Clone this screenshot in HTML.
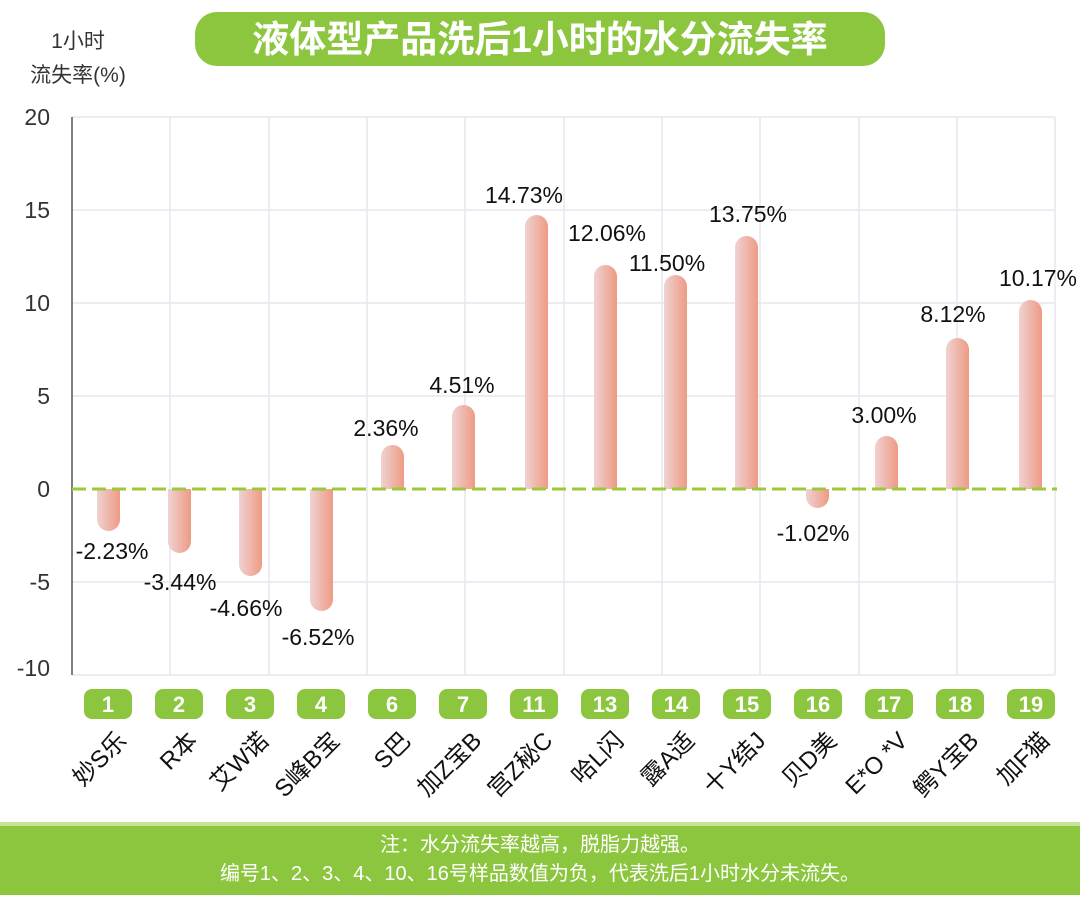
<!DOCTYPE html>
<html><head><meta charset="utf-8"><style>
body{margin:0;background:#fff;}
svg text{font-family:"Liberation Sans","Noto Sans CJK SC",sans-serif;}
</style></head><body>
<svg width="1080" height="895" viewBox="0 0 1080 895" xmlns="http://www.w3.org/2000/svg">
<defs>
<linearGradient id="bg" x1="0" y1="0" x2="1" y2="0">
<stop offset="0" stop-color="#efd2d2"/><stop offset="1" stop-color="#ee9a84"/>
</linearGradient>
<clipPath id="up"><rect x="0" y="0" width="1080" height="489"/></clipPath>
<clipPath id="dn"><rect x="0" y="489" width="1080" height="400"/></clipPath>
</defs>
<rect width="1080" height="895" fill="#fff"/>
<!-- title -->
<rect x="195" y="12" width="690" height="54" rx="22" fill="#8cc63f"/>
<text x="540" y="52" font-size="37" font-weight="bold" fill="#fff" text-anchor="middle">液体型产品洗后1小时的水分流失率</text>
<text x="78" y="48" font-size="21" fill="#333" text-anchor="middle">1小时</text>
<text x="78" y="82" font-size="21" fill="#333" text-anchor="middle">流失率(%)</text>
<!-- grid -->
<g stroke="#e6e6ee" stroke-width="1.5">
<line x1="72" y1="117" x2="1055" y2="117"/><line x1="72" y1="210" x2="1055" y2="210"/>
<line x1="72" y1="303" x2="1055" y2="303"/><line x1="72" y1="396" x2="1055" y2="396"/>
<line x1="72" y1="582" x2="1055" y2="582"/><line x1="72" y1="675" x2="1055" y2="675"/>
<line x1="170" y1="117" x2="170" y2="675"/><line x1="269" y1="117" x2="269" y2="675"/>
<line x1="367" y1="117" x2="367" y2="675"/><line x1="465" y1="117" x2="465" y2="675"/>
<line x1="564" y1="117" x2="564" y2="675"/><line x1="662" y1="117" x2="662" y2="675"/>
<line x1="760" y1="117" x2="760" y2="675"/><line x1="859" y1="117" x2="859" y2="675"/>
<line x1="957" y1="117" x2="957" y2="675"/><line x1="1055" y1="117" x2="1055" y2="675"/>
</g>
<line x1="72" y1="117" x2="72" y2="675" stroke="#555" stroke-width="1.5"/>
<g font-size="23" fill="#333" text-anchor="end">
<text x="50" y="125">20</text><text x="50" y="218">15</text><text x="50" y="311">10</text>
<text x="50" y="404">5</text><text x="50" y="497">0</text><text x="50" y="590">-5</text><text x="50" y="676">-10</text>
</g>
<!-- bars -->
<g fill="url(#bg)" clip-path="url(#dn)">
<rect x="97" y="470" width="23" height="61" rx="11.5"/>
<rect x="168" y="470" width="23" height="83" rx="11.5"/>
<rect x="239" y="470" width="23" height="106" rx="11.5"/>
<rect x="310" y="470" width="23" height="141" rx="11.5"/>
<rect x="806" y="470" width="23" height="38" rx="11.5"/>
</g>
<g fill="url(#bg)" clip-path="url(#up)">
<rect x="381" y="445" width="23" height="70" rx="11.5"/>
<rect x="452" y="405" width="23" height="110" rx="11.5"/>
<rect x="525" y="215" width="23" height="300" rx="11.5"/>
<rect x="594" y="265" width="23" height="250" rx="11.5"/>
<rect x="664" y="275" width="23" height="240" rx="11.5"/>
<rect x="735" y="236" width="23" height="279" rx="11.5"/>
<rect x="875" y="436" width="23" height="79" rx="11.5"/>
<rect x="946" y="338" width="23" height="177" rx="11.5"/>
<rect x="1019" y="300" width="23" height="215" rx="11.5"/>
</g>
<line x1="72" y1="489" x2="1057" y2="489" stroke="#9cc93a" stroke-width="3" stroke-dasharray="14,6"/>
<!-- value labels -->
<g font-size="23" fill="#111" text-anchor="middle">
<text x="112" y="559">-2.23%</text><text x="180" y="590">-3.44%</text>
<text x="246" y="616">-4.66%</text><text x="318" y="645">-6.52%</text>
<text x="386" y="436">2.36%</text><text x="462" y="393">4.51%</text>
<text x="524" y="203">14.73%</text><text x="607" y="241">12.06%</text>
<text x="667" y="271">11.50%</text><text x="748" y="222">13.75%</text>
<text x="813" y="541">-1.02%</text><text x="884" y="423">3.00%</text>
<text x="953" y="322">8.12%</text><text x="1038" y="286">10.17%</text>
</g>
<!-- badges -->
<g fill="#8cc63f">
<rect x="84" y="689" width="48" height="30" rx="8"/><rect x="155" y="689" width="48" height="30" rx="8"/>
<rect x="226" y="689" width="48" height="30" rx="8"/><rect x="297" y="689" width="48" height="30" rx="8"/>
<rect x="368" y="689" width="48" height="30" rx="8"/><rect x="439" y="689" width="48" height="30" rx="8"/>
<rect x="510" y="689" width="48" height="30" rx="8"/><rect x="581" y="689" width="48" height="30" rx="8"/>
<rect x="652" y="689" width="48" height="30" rx="8"/><rect x="723" y="689" width="48" height="30" rx="8"/>
<rect x="794" y="689" width="48" height="30" rx="8"/><rect x="865" y="689" width="48" height="30" rx="8"/>
<rect x="936" y="689" width="48" height="30" rx="8"/><rect x="1007" y="689" width="48" height="30" rx="8"/>
</g>
<g font-size="22" font-weight="bold" fill="#fff" text-anchor="middle">
<text x="108" y="712">1</text><text x="179" y="712">2</text><text x="250" y="712">3</text><text x="321" y="712">4</text>
<text x="392" y="712">6</text><text x="463" y="712">7</text><text x="534" y="712">11</text><text x="605" y="712">13</text>
<text x="676" y="712">14</text><text x="747" y="712">15</text><text x="818" y="712">16</text><text x="889" y="712">17</text>
<text x="960" y="712">18</text><text x="1031" y="712">19</text>
</g>
<!-- x labels -->
<g font-size="24" fill="#111" text-anchor="end">
<text transform="translate(128,742) rotate(-45)">妙S乐</text>
<text transform="translate(199,742) rotate(-45)">R本</text>
<text transform="translate(270,742) rotate(-45)">艾W诺</text>
<text transform="translate(341,742) rotate(-45)">S峰B宝</text>
<text transform="translate(412,742) rotate(-45)">S巴</text>
<text transform="translate(483,742) rotate(-45)">加Z宝B</text>
<text transform="translate(554,742) rotate(-45)">宫Z秘C</text>
<text transform="translate(625,742) rotate(-45)">哈L闪</text>
<text transform="translate(696,742) rotate(-45)">露A适</text>
<text transform="translate(767,742) rotate(-45)">十Y结J</text>
<text transform="translate(838,742) rotate(-45)">贝D美</text>
<text transform="translate(909,742) rotate(-45)">E*O *V</text>
<text transform="translate(980,742) rotate(-45)">鳄Y宝B</text>
<text transform="translate(1051,742) rotate(-45)">加F猫</text>
</g>
<!-- footer -->
<rect x="0" y="822" width="1080" height="4" fill="#c8e29a"/>
<rect x="0" y="826" width="1080" height="69" fill="#8cc63f"/>
<g font-size="20" fill="#fff" text-anchor="middle">
<text x="540" y="851">注：水分流失率越高，脱脂力越强。</text>
<text x="540" y="880">编号1、2、3、4、10、16号样品数值为负，代表洗后1小时水分未流失。</text>
</g>
</svg>
</body></html>
